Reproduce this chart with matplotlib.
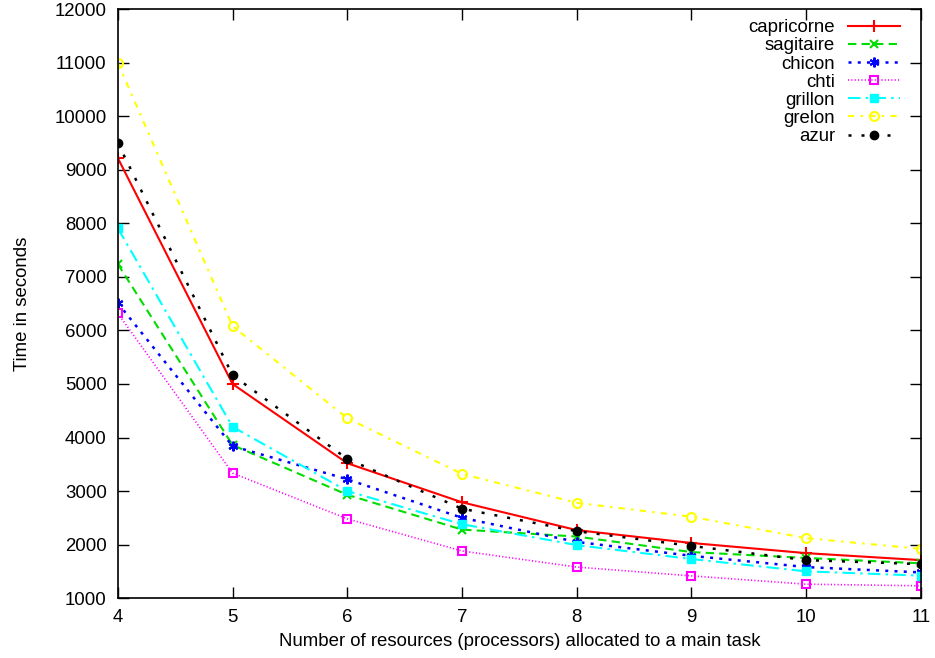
import matplotlib
matplotlib.use("Agg")
import matplotlib.pyplot as plt

plt.rcParams['font.family'] = ['Liberation Sans', 'DejaVu Sans']

x = [4, 5, 6, 7, 8, 9, 10, 11]
capricorne = [9220, 5000, 3520, 2790, 2270, 2030, 1840, 1710]
sagitaire = [7240, 3860, 2930, 2280, 2150, 1860, 1750, 1650]
chicon = [6510, 3840, 3220, 2500, 2050, 1790, 1580, 1480]
chti = [6320, 3335, 2480, 1880, 1580, 1415, 1260, 1230]
grillon = [7910, 4200, 3000, 2380, 1990, 1730, 1500, 1420]
grelon = [11000, 6080, 4360, 3320, 2780, 2520, 2120, 1920]
azur = [9500, 5165, 3600, 2670, 2250, 1975, 1710, 1635]

xticks = [4, 5, 6, 7, 8, 9, 10, 11]
yticks = [1000, 2000, 3000, 4000, 5000, 6000, 7000, 8000, 9000, 10000, 11000, 12000]

fs = 13.4

fig = plt.figure(figsize=(9.35, 6.58), dpi=100)
ax = fig.add_axes([0.126, 0.091, 0.859, 0.895])

ax.plot(x, capricorne, color='#ff0000', linestyle='-', marker='+', markersize=8, mew=1.5, lw=1.5, label='capricorne')
ax.plot(x, sagitaire, color='#00dd00', linestyle=(0, (4, 2.5)), marker='x', markersize=6, mew=1.5, lw=1.5, label='sagitaire')
ax.plot(x, chicon, color='#0000ff', linestyle=(0, (1.2, 2.5)), marker=(6, 2, 0), markersize=7, mew=1.5, lw=1.8, label='chicon')
ax.plot(x, chti, color='#ff00ff', linestyle=(0, (0.7, 1.3)), marker='s', markersize=6, mfc='none', mew=1.5, lw=1.2, label='chti')
ax.plot(x, grillon, color='#00ffff', linestyle=(0, (6, 2.5, 1.2, 2.5)), marker='s', markersize=6, mew=1.0, lw=1.5, label='grillon')
ax.plot(x, grelon, color='#ffff00', linestyle=(0, (3, 3, 1.2, 3)), marker='o', markersize=6.5, mfc='none', mew=1.5, lw=1.5, label='grelon')
ax.plot(x, azur, color='#000000', linestyle=(0, (1.2, 4)), marker='o', markersize=6, lw=1.8, label='azur')

ax.set_xlim(4, 11)
ax.set_ylim(1000, 12000)
ax.set_xticks(xticks)
ax.set_yticks(yticks)
ax.tick_params(direction='in', length=8, width=1, top=True, right=True, labelsize=fs)
ax.tick_params(axis='x', pad=8)
ax.tick_params(axis='y', pad=8)
for s in ax.spines.values():
    s.set_linewidth(1.2)

ax.set_xlabel('Number of resources (processors) allocated to a main task', fontsize=fs, labelpad=5)
ax.set_ylabel('Time in seconds', fontsize=fs, labelpad=17)

leg = ax.legend(loc='upper right', frameon=False, markerfirst=False, fontsize=fs,
                handlelength=2.8, labelspacing=0.06, handletextpad=0.7,
                borderpad=0, borderaxespad=0, bbox_to_anchor=(0.974, 0.983))

fig.savefig('out.png', dpi=100)
